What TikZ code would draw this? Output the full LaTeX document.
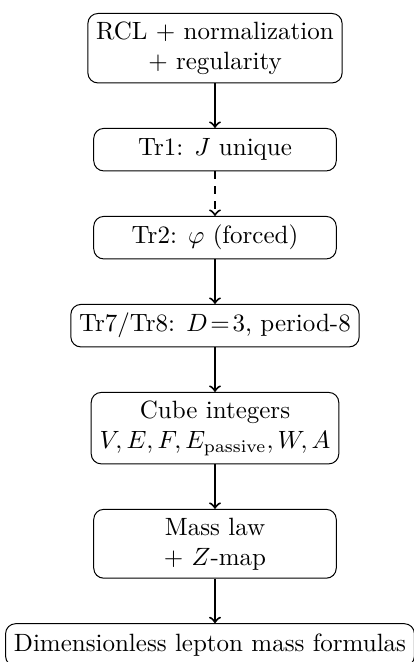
\documentclass[tikz,border=0pt]{standalone}
\usetikzlibrary{positioning}

\begin{document}
\begin{tikzpicture}[
    stepbox/.style={draw, rounded corners=4pt, thin, align=center,
        minimum width=97pt, minimum height=17pt, inner sep=3.33pt},
    flow/.style={thick, ->}
]
    \definecolor{borderColour}{HTML}{000000}

    \def\gap{17.8pt}

    % Fix the page
    \useasboundingbox (-86pt,5.2pt) rectangle (79.6pt,-259.6pt);

    % Draw boxes
    \node[stepbox, anchor=north] (rcl) at (0,0) {RCL $+$ normalization\\$+$ regularity};
    \node[stepbox, below=\gap of rcl] (trone) {Tr1: $J$ unique};
    \node[stepbox, below=\gap of trone] (trtwo) {Tr2: $\varphi$ (forced)};
    \node[stepbox, below=\gap of trtwo] (trseven) {Tr7/Tr8: $D\!=\!3$, period-8};
    \node[stepbox, below=\gap of trseven] (cube) {Cube integers\\$V, E, F, E_{\mathrm{passive}}, W, A$};
    \node[stepbox, below=\gap of cube] (mass) {Mass law\\$+$ $Z$-map};
    \node[stepbox, below=\gap of mass, xshift=-2pt] (formulas) {Dimensionless lepton mass formulas};

    % Draw arrows
    \draw[flow] (rcl) -- (trone);
    \draw[flow, dashed] (trone) -- (trtwo);
    \draw[flow] (trtwo) -- (trseven);
    \draw[flow] (trseven) -- (cube);
    \draw[flow] (cube) -- (mass);
    \draw[flow] (mass.south) -- (mass.south |- formulas.north);

\end{tikzpicture}
\end{document}
